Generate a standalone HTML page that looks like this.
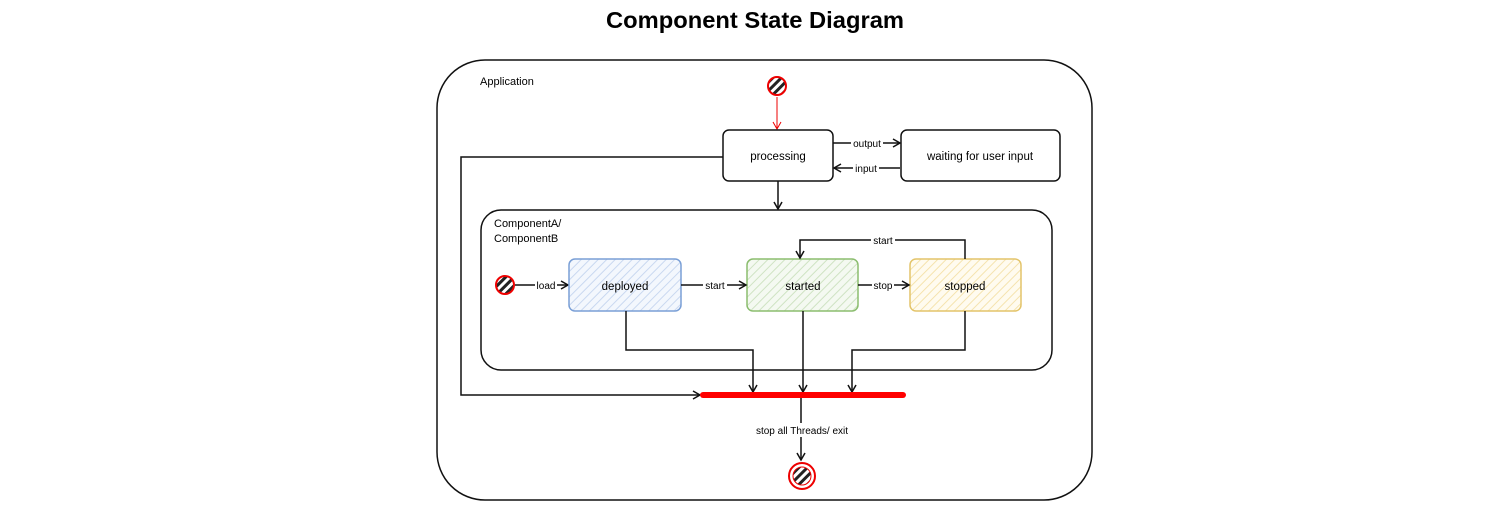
<!DOCTYPE html>
<html><head><meta charset="utf-8"><style>
body{margin:0;background:#fff;width:1511px;height:501px;overflow:hidden}
text{font-family:"Liberation Sans",sans-serif;}
</style></head><body>
<svg width="1511" height="501" viewBox="0 0 1511 501" xmlns="http://www.w3.org/2000/svg">
<defs>
<pattern id="h" width="6" height="6" patternUnits="userSpaceOnUse" patternTransform="rotate(45)"><rect width="6" height="6" fill="#fff"/><rect width="3" height="6" fill="#222"/></pattern>
<pattern id="hb" width="6" height="6" patternUnits="userSpaceOnUse" patternTransform="rotate(45)"><rect width="6" height="6" fill="#f3f7fd"/><rect width="1" height="6" fill="#c9d8f0"/></pattern>
<pattern id="hg" width="6" height="6" patternUnits="userSpaceOnUse" patternTransform="rotate(45)"><rect width="6" height="6" fill="#f4f9f1"/><rect width="1" height="6" fill="#cfe3c3"/></pattern>
<pattern id="hy" width="6" height="6" patternUnits="userSpaceOnUse" patternTransform="rotate(45)"><rect width="6" height="6" fill="#fffbef"/><rect width="1" height="6" fill="#f5e3ad"/></pattern>
<marker id="a" markerWidth="10" markerHeight="10" refX="8" refY="5" orient="auto" markerUnits="userSpaceOnUse"><path d="M1,1 L8,5 L1,9" fill="none" stroke="#111" stroke-width="1.5"/></marker>
<marker id="ar" markerWidth="10" markerHeight="10" refX="8" refY="5" orient="auto" markerUnits="userSpaceOnUse"><path d="M1,1 L8,5 L1,9" fill="none" stroke="#e00" stroke-width="1"/></marker>
</defs>
<text x="755" y="28" font-size="23" font-weight="bold" text-anchor="middle" textLength="298" lengthAdjust="spacingAndGlyphs">Component State Diagram</text>
<rect x="437" y="60" width="655" height="440" rx="48" fill="none" stroke="#111" stroke-width="1.5"/>
<text x="480" y="85" font-size="11">Application</text>
<circle cx="777" cy="86" r="9" fill="url(#h)" stroke="#e00" stroke-width="2"/>
<line x1="777" y1="97" x2="777" y2="129" stroke="#e00" marker-end="url(#ar)"/>
<rect x="723" y="130" width="110" height="51" rx="6" fill="#fff" stroke="#111" stroke-width="1.5"/>
<text x="778" y="160" font-size="11.5" text-anchor="middle">processing</text>
<rect x="901" y="130" width="159" height="51" rx="6" fill="#fff" stroke="#111" stroke-width="1.5"/>
<text x="980" y="160" font-size="11.5" text-anchor="middle">waiting for user input</text>
<line x1="833" y1="143" x2="900" y2="143" stroke="#111" stroke-width="1.5" marker-end="url(#a)"/>
<rect x="851" y="137" width="32" height="12" fill="#fff"/><text x="867" y="147" font-size="10" text-anchor="middle">output</text>
<line x1="900" y1="168" x2="834" y2="168" stroke="#111" stroke-width="1.5" marker-end="url(#a)"/>
<rect x="853" y="162" width="26" height="12" fill="#fff"/><text x="866" y="172" font-size="10" text-anchor="middle">input</text>
<line x1="778" y1="181" x2="778" y2="209" stroke="#111" stroke-width="1.5" marker-end="url(#a)"/>
<polyline points="723,157 461,157 461,395 700,395" fill="none" stroke="#111" stroke-width="1.5" marker-end="url(#a)"/>
<rect x="481" y="210" width="571" height="160" rx="20" fill="none" stroke="#111" stroke-width="1.5"/>
<text x="494" y="227" font-size="11">ComponentA/</text>
<text x="494" y="242" font-size="11">ComponentB</text>
<circle cx="505" cy="285" r="9" fill="url(#h)" stroke="#e00" stroke-width="2"/>
<line x1="515" y1="285" x2="568" y2="285" stroke="#111" stroke-width="1.5" marker-end="url(#a)"/>
<rect x="535" y="279" width="22" height="12" fill="#fff"/><text x="546" y="289" font-size="10" text-anchor="middle">load</text>
<rect x="569" y="259" width="112" height="52" rx="6" fill="url(#hb)" stroke="#7a9fd6" stroke-width="1.5"/>
<text x="625" y="290" font-size="11.5" text-anchor="middle">deployed</text>
<rect x="747" y="259" width="111" height="52" rx="6" fill="url(#hg)" stroke="#8bbd6f" stroke-width="1.5"/>
<text x="803" y="290" font-size="11.5" text-anchor="middle">started</text>
<rect x="910" y="259" width="111" height="52" rx="6" fill="url(#hy)" stroke="#e3c46a" stroke-width="1.5"/>
<text x="965" y="290" font-size="11.5" text-anchor="middle">stopped</text>
<line x1="681" y1="285" x2="746" y2="285" stroke="#111" stroke-width="1.5" marker-end="url(#a)"/>
<rect x="703" y="279" width="24" height="12" fill="#fff"/><text x="715" y="289" font-size="10" text-anchor="middle">start</text>
<line x1="858" y1="285" x2="909" y2="285" stroke="#111" stroke-width="1.5" marker-end="url(#a)"/>
<rect x="872" y="279" width="22" height="12" fill="#fff"/><text x="883" y="289" font-size="10" text-anchor="middle">stop</text>
<polyline points="965,259 965,240 800,240 800,258" fill="none" stroke="#111" stroke-width="1.5" marker-end="url(#a)"/>
<rect x="871" y="234" width="24" height="12" fill="#fff"/><text x="883" y="244" font-size="10" text-anchor="middle">start</text>
<polyline points="626,311 626,350 753,350 753,392" fill="none" stroke="#111" stroke-width="1.5" marker-end="url(#a)"/>
<line x1="803" y1="311" x2="803" y2="392" stroke="#111" stroke-width="1.5" marker-end="url(#a)"/>
<polyline points="965,311 965,350 852,350 852,392" fill="none" stroke="#111" stroke-width="1.5" marker-end="url(#a)"/>
<line x1="703" y1="395" x2="903" y2="395" stroke="#f00" stroke-width="6" stroke-linecap="round"/>
<line x1="801" y1="398" x2="801" y2="460" stroke="#111" stroke-width="1.5" marker-end="url(#a)"/>
<rect x="750" y="423" width="104" height="14" fill="#fff"/><text x="802" y="434" font-size="10" text-anchor="middle">stop all Threads/ exit</text>
<circle cx="802" cy="476" r="13" fill="#fff" stroke="#e00" stroke-width="2"/>
<circle cx="802" cy="476" r="9" fill="url(#h)" stroke="#e00" stroke-width="1"/>
</svg>
</body></html>
